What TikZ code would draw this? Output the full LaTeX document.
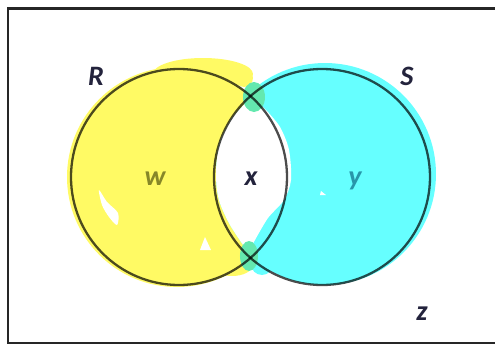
\documentclass[tikz,border=0pt]{standalone}
\usepackage{fontspec}
\setmainfont{Carlito}
\usetikzlibrary{positioning}
\definecolor{hlyellow}{RGB}{255, 250, 100}
\definecolor{hlcyan}{RGB}{102, 255, 255}
\definecolor{hlgreen}{RGB}{100, 232, 175}
\definecolor{inktext}{RGB}{35, 35, 60}
\definecolor{olivetext}{RGB}{135, 135, 40}
\definecolor{tealtext}{RGB}{40, 150, 170}

\begin{document}
\begin{tikzpicture}[
  x = 0.02cm, y = -0.02cm,
  frame/.style   = {draw=black!85, line width=1.7pt},
  setline/.style = {draw=black, draw opacity=0.7, line width=1.3pt},
  lbl/.style     = {font=\fontsize{16}{19}\selectfont\bfseries\itshape,
                    text=inktext, anchor=base, inner sep=0pt},
]
  \useasboundingbox (0,0) rectangle (495,345);

  % Universe frame
  \draw[frame] (500,8.5) -- (8,8.5) -- (8,343) -- (500,343);

  % Set centres
  \coordinate (cR) at (179,177);
  \coordinate (cS) at (322,177);

  % Yellow highlight (R only)
  \fill[hlyellow] (177,177) circle[radius=110];
  \fill[hlyellow] (203,74) ellipse[x radius=50, y radius=16];
  \fill[hlyellow] (244,78) circle[radius=9];
  \fill[hlyellow] (232,266) ellipse[x radius=20, y radius=10];

  % Cyan highlight (S only)
  \begin{scope}
    \clip (256,0) -- (256,90)
      -- plot[smooth] coordinates {(252,97) (232,118) (219,145) (216,175)
                                   (219,200) (230,225) (248,252)}
      -- (256,345) -- (495,345) -- (495,0) -- cycle;
    \fill[hlcyan] (325,174) circle[radius=111];
    \fill[hlcyan] (262,264) circle[radius=11];
  \end{scope}

  % Unshaded middle
  \fill[white] plot[smooth] coordinates {(252,97) (232,118) (219,145) (216,175)
                                         (219,200) (230,225) (248,252)}
    -- plot[smooth] coordinates {(255,240) (268,218) (284,200) (291,180)
                                 (289,150) (280,127) (266,110)}
    -- cycle;

  % Overlap blobs
  \fill[hlgreen] (254,97) ellipse[x radius=11, y radius=15];
  \fill[hlgreen] (249,256) ellipse[x radius=9, y radius=15];

  % Gaps in the highlight
  \fill[white] plot[smooth cycle] coordinates {(99,190) (107,202) (118,213)
                                               (117,225) (109,217) (102,205)};
  \fill[white] (205,237) -- (211,250) -- (200,250) -- cycle;
  \fill[white] (321,191) -- (326,195) -- (320,195) -- cycle;

  % Circles
  \draw[setline] (cR) circle[radius=108];
  \draw[setline] (cS) circle[radius=108];

  % Labels
  \node[lbl] (lblR) at (96,85) {R};
  \node[lbl] (lblS) at (407,85) {S};
  \node[lbl, text=olivetext] (lblW) at (155,185) {w};
  \node[lbl] (lblX) at (251,185) {x};
  \node[lbl, text=tealtext] (lblY) at (355,185) {y};
  \node[lbl] (lblZ) at (422,320) {z};
\end{tikzpicture}
\end{document}
